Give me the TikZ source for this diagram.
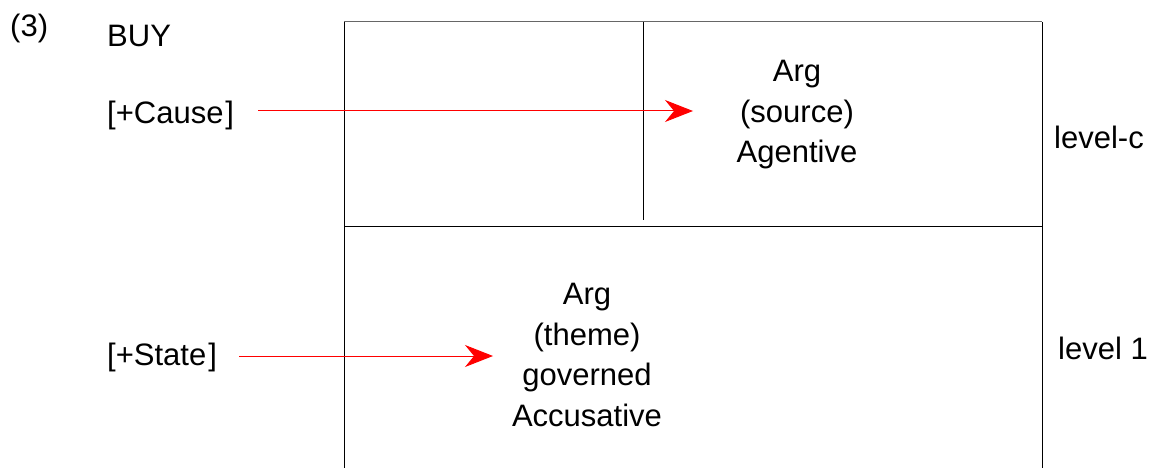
\documentclass[tikz,border=0pt]{standalone}
\usepackage{fontspec}
\setmainfont{Liberation Sans}
\usetikzlibrary{arrows.meta}
\begin{document}
\begin{tikzpicture}[x=1pt,y=-1pt,
  lbl/.style={font=\fontsize{31}{40.5}\selectfont, inner sep=0pt, align=center},
  boxline/.style={draw=black, line width=1pt},
  redarrow/.style={draw=red, line width=1pt, -{Stealth[length=28pt,width=22pt,inset=9pt]}}]
\useasboundingbox (0,0) rectangle (1157,468);
% box
\coordinate (tl) at (344,22);
\coordinate (tr) at (1042,22);
\coordinate (ml) at (344,226);
\coordinate (mr) at (1042,226);
\coordinate (bl) at (344,470);
\coordinate (br) at (1042,470);
\coordinate (vt) at (643,22);
\coordinate (vb) at (643,220);
\draw[boxline, draw=black!60] (tl) -- (tr);
\draw[boxline] (bl) -- (tl);
\draw[boxline] (br) -- (tr);
\draw[boxline] (ml) -- (mr);
\draw[boxline] (vt) -- (vb);
% labels
\node[lbl, anchor=west] (num) at (10,28) {(3)};
\node[lbl, anchor=west] (buy) at (107,36) {BUY};
\node[lbl, anchor=west] (cause) at (107,115) {[+Cause\kern2pt]};
\node[lbl, anchor=west] (state) at (107,357) {[+State\kern2pt]};
\node[lbl, anchor=west] (levc) at (1054,137) {level-c};
\node[lbl, anchor=west] (lev1) at (1058,348) {level 1};
\node[lbl] (arg1) at (797,115) {Arg\\(source)\\Agentive};
\node[lbl] (arg2) at (587,355) {Arg\\(theme)\\governed\\Accusative};
% arrows
\coordinate (a1e) at (693,111);
\coordinate (a2e) at (493,356);
\draw[redarrow] ([xshift=24pt]cause.east |- a1e) -- (a1e);
\draw[redarrow] ([xshift=22pt]state.east |- a2e) -- (a2e);
\end{tikzpicture}
\end{document}
